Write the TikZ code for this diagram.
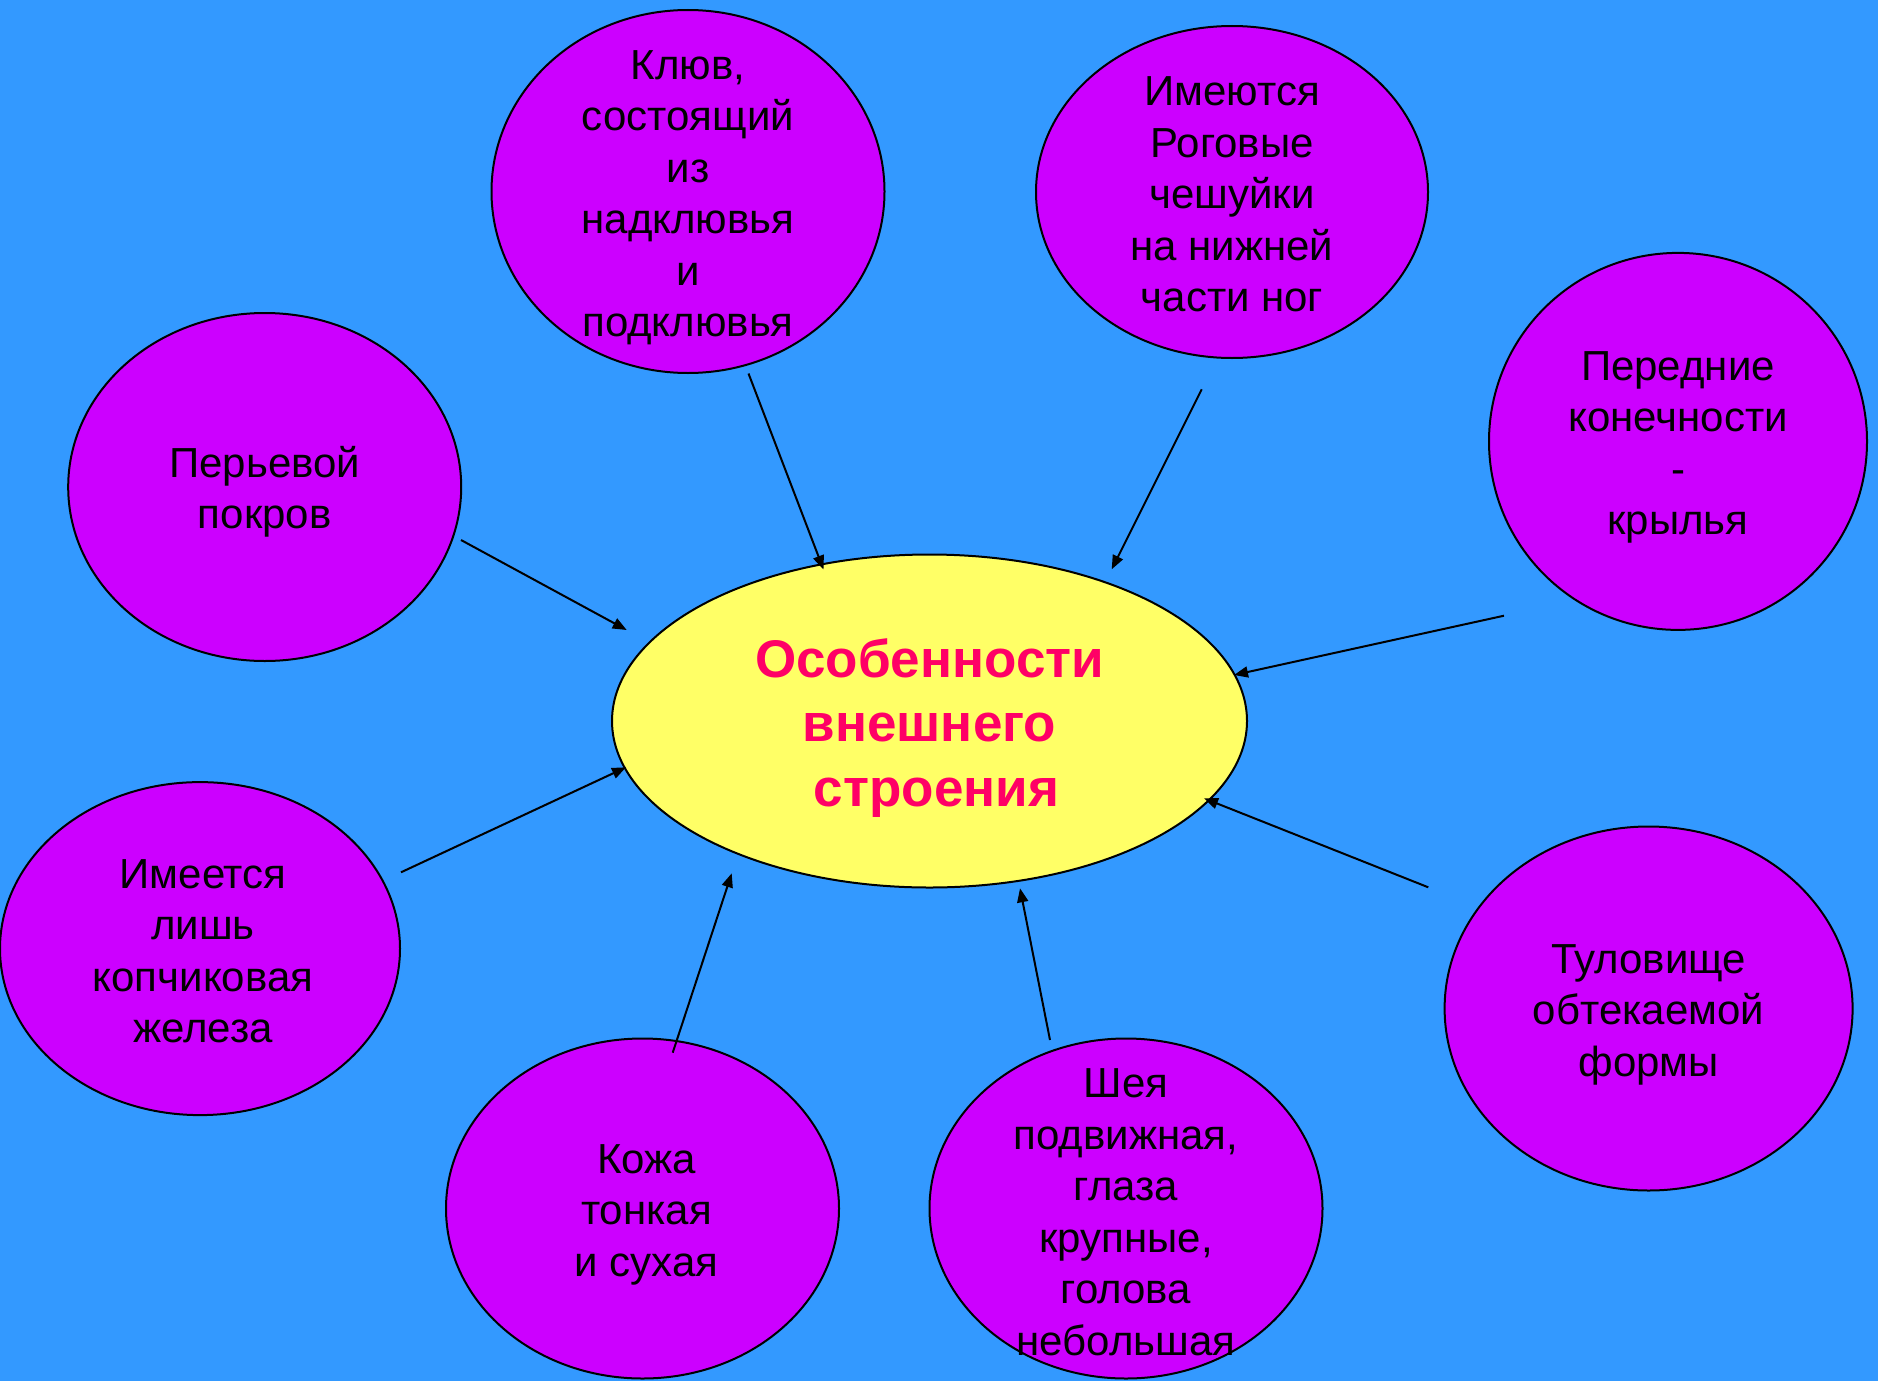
\documentclass[tikz,border=0pt]{standalone}
\usepackage{fontspec}
\setmainfont{Liberation Sans}
\usetikzlibrary{shapes.geometric,arrows.meta}
\definecolor{bgblue}{HTML}{3399FF}
\definecolor{violetfill}{HTML}{CC00FF}
\definecolor{yelfill}{HTML}{FFFF66}
\definecolor{pinkred}{HTML}{FF0066}
\begin{document}
\begin{tikzpicture}[x=1pt,y=-1pt,
  oval/.style={ellipse, draw=black, line width=2pt, fill=violetfill, inner sep=0pt},
  ovtext/.style={align=center, font=\fontsize{42}{51.5}\selectfont, text=black, inner sep=0pt, yshift=-6pt},
  cttext/.style={align=center, font=\fontsize{53}{64.7}\selectfont\bfseries, text=pinkred, inner sep=0pt, yshift=-7pt},
  arr/.style={line width=2pt, -{Triangle[length=14pt,width=11pt]}}]
\fill[bgblue] (0,0) rectangle (1878,1381);
\useasboundingbox (0,0) rectangle (1878,1381);
% ellipses
\node[oval, fill=yelfill, minimum width=635pt, minimum height=333pt] (center) at (929.5,721) {};
\node[oval, minimum width=393pt, minimum height=363pt] (klyuv) at (688,191.5) {};
\node[oval, minimum width=392pt, minimum height=332pt] (imeyut) at (1232,192) {};
\node[oval, minimum width=393pt, minimum height=348pt] (peryev) at (264.7,487) {};
\node[oval, minimum width=378pt, minimum height=377pt] (peredn) at (1678,441.4) {};
\node[oval, minimum width=400pt, minimum height=333pt] (kopch) at (200,948.6) {};
\node[oval, minimum width=408pt, minimum height=364pt] (tulov) at (1648.6,1008.5) {};
\node[oval, minimum width=393pt, minimum height=340pt] (kozha) at (642.5,1208.5) {};
\node[oval, minimum width=393pt, minimum height=340pt] (sheya) at (1126,1208.5) {};
% texts
\node[cttext] (centerT) at (center.center) {Особенности\\внешнего\\\hspace{14pt}строения};
\node[ovtext] (klyuvT) at (klyuv.center) {Клюв,\\состоящий\\из\\надклювья\\и\\подклювья};
\node[ovtext, yshift=3.5pt] (imeyutT) at (imeyut.center) {Имеются\\Роговые\\чешуйки\\на нижней\\части ног};
\node[ovtext, yshift=1pt] (peryevT) at (peryev.center) {Перьевой\\покров};
\node[ovtext] (perednT) at (peredn.center) {Передние\\конечности\\-\\крылья};
\node[ovtext, xshift=3pt, yshift=3.5pt] (kopchT) at (kopch.center) {Имеется\\лишь\\копчиковая\\железа};
\node[ovtext] (tulovT) at (tulov.center) {Туловище\\обтекаемой\\формы};
\node[ovtext, xshift=4pt] (kozhaT) at (kozha.center) {Кожа\\тонкая\\и сухая};
\node[ovtext, yshift=2.5pt] (sheyaT) at (sheya.center) {Шея\\подвижная,\\глаза\\крупные,\\голова\\небольшая};
% connector ends
\coordinate (s1) at (748.5,373.5); \coordinate (t1) at (823.5,569.5);
\coordinate (s2) at (1201.7,389.3); \coordinate (t2) at (1111.7,569.3);
\coordinate (s3) at (461,540); \coordinate (t3) at (626.7,630);
\coordinate (s4) at (1504,615.7); \coordinate (t4) at (1234,675);
\coordinate (s5) at (401,872.3); \coordinate (t5) at (626,767.3);
\coordinate (s6) at (1428.3,887.3); \coordinate (t6) at (1204,798.3);
\coordinate (s7) at (672.7,1052.7); \coordinate (t7) at (731.7,873.3);
\coordinate (s8) at (1050,1040); \coordinate (t8) at (1020,888.3);
\draw[arr] (s1) -- (t1);
\draw[arr] (s2) -- (t2);
\draw[arr] (s3) -- (t3);
\draw[arr] (s4) -- (t4);
\draw[arr] (s5) -- (t5);
\draw[arr] (s6) -- (t6);
\draw[arr] (s7) -- (t7);
\draw[arr] (s8) -- (t8);
\end{tikzpicture}
\end{document}
